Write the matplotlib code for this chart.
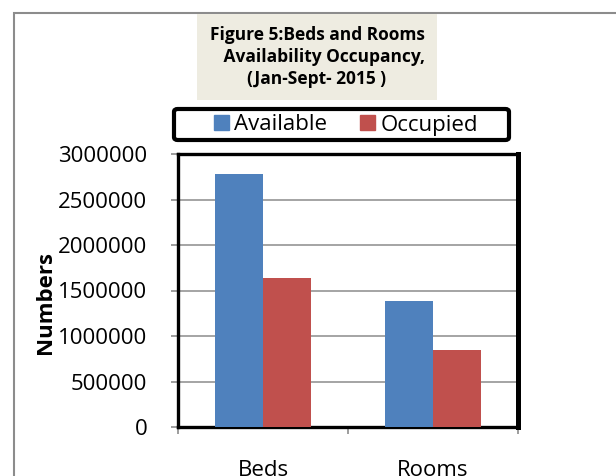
import matplotlib
matplotlib.use("Agg")
import matplotlib.pyplot as plt
from matplotlib.patches import Rectangle, FancyBboxPatch, Patch
import numpy as np

# data
categories = ["Beds", "Rooms"]
available = [2780000, 1390000]
occupied = [1635000, 845000]
y_ticks = [0, 500000, 1000000, 1500000, 2000000, 2500000, 3000000]
series_names = ["Available", "Occupied"]

plt.rcParams['font.family'] = ['Open Sans', 'DejaVu Sans']

W, H = 616, 476
fig = plt.figure(figsize=(W / 100, H / 100), dpi=100)

def fx(px):  # pixel -> figure coords
    return px / W

def fy(py):
    return 1 - py / H

# outer chart border (grey), runs off the right and bottom edge
fig.add_artist(Rectangle((fx(14), -0.1), 1.2, fy(13) + 0.1, transform=fig.transFigure,
                         fill=False, edgecolor='#8c8c8c', linewidth=1.5, zorder=0))

# beige title box
fig.add_artist(Rectangle((fx(197), fy(100)), fx(437) - fx(197), fy(14) - fy(100),
                         transform=fig.transFigure, facecolor='#eeece1', edgecolor='none', zorder=1))
fig.text(fx(317), fy(57), "Figure 5:Beds and Rooms\n   Availability Occupancy,\n(Jan-Sept- 2015 )",
         ha='center', va='center', multialignment='center', fontsize=12.5, fontweight='bold',
         linespacing=1.3, zorder=2)

ax = fig.add_axes([fx(178), fy(427), fx(518) - fx(178), fy(154) - fy(427)])

x = np.arange(len(categories))
w = 0.285
ax.bar(x - w / 2, available, w, color='#4f81bd', zorder=3)
ax.bar(x + w / 2, occupied, w, color='#c0504d', zorder=3)

ax.set_xlim(-0.5, 1.5)
ax.set_ylim(0, 3000000)
ax.set_yticks(y_ticks)
ax.set_yticklabels([str(v) for v in y_ticks], fontsize=16)
ax.yaxis.grid(True, color='#8c8c8c', linewidth=1.1, zorder=0)
ax.set_axisbelow(True)

# category boundary ticks, labels sit on minor ticks
ax.set_xticks([-0.5, 0.5, 1.5])
ax.set_xticklabels([])
ax.set_xticks(x, minor=True)
ax.set_xticklabels(categories, minor=True, fontsize=16)
ax.tick_params(axis='x', which='minor', length=0, pad=24)
ax.tick_params(axis='both', which='major', length=5, color='#8c8c8c', width=1.2)
ax.tick_params(axis='y', pad=17)

ax.set_ylabel("Numbers", fontsize=16, fontweight='bold')
ax.yaxis.set_label_coords(-0.36, 0.455)

for side in ['top', 'left', 'bottom']:
    ax.spines[side].set_linewidth(2.4)
    ax.spines[side].set_color('black')
ax.spines['right'].set_linewidth(3.6)

# legend box with thick rounded border
fig.add_artist(FancyBboxPatch((fx(174), fy(140)), fx(509) - fx(174), fy(109) - fy(140),
                              boxstyle="round,pad=0,rounding_size=0.006", transform=fig.transFigure,
                              facecolor='white', edgecolor='black', linewidth=3, zorder=4))
handles = [Patch(color='#4f81bd'), Patch(color='#c0504d')]
leg = fig.legend(handles, series_names, loc='center', bbox_to_anchor=(fx(346), fy(125)),
                 ncol=2, frameon=False, fontsize=16, handlelength=0.65, handleheight=0.65,
                 handletextpad=0.25, columnspacing=1.5, borderpad=0)
leg.set_zorder(5)

fig.savefig("out.png", dpi=100)
